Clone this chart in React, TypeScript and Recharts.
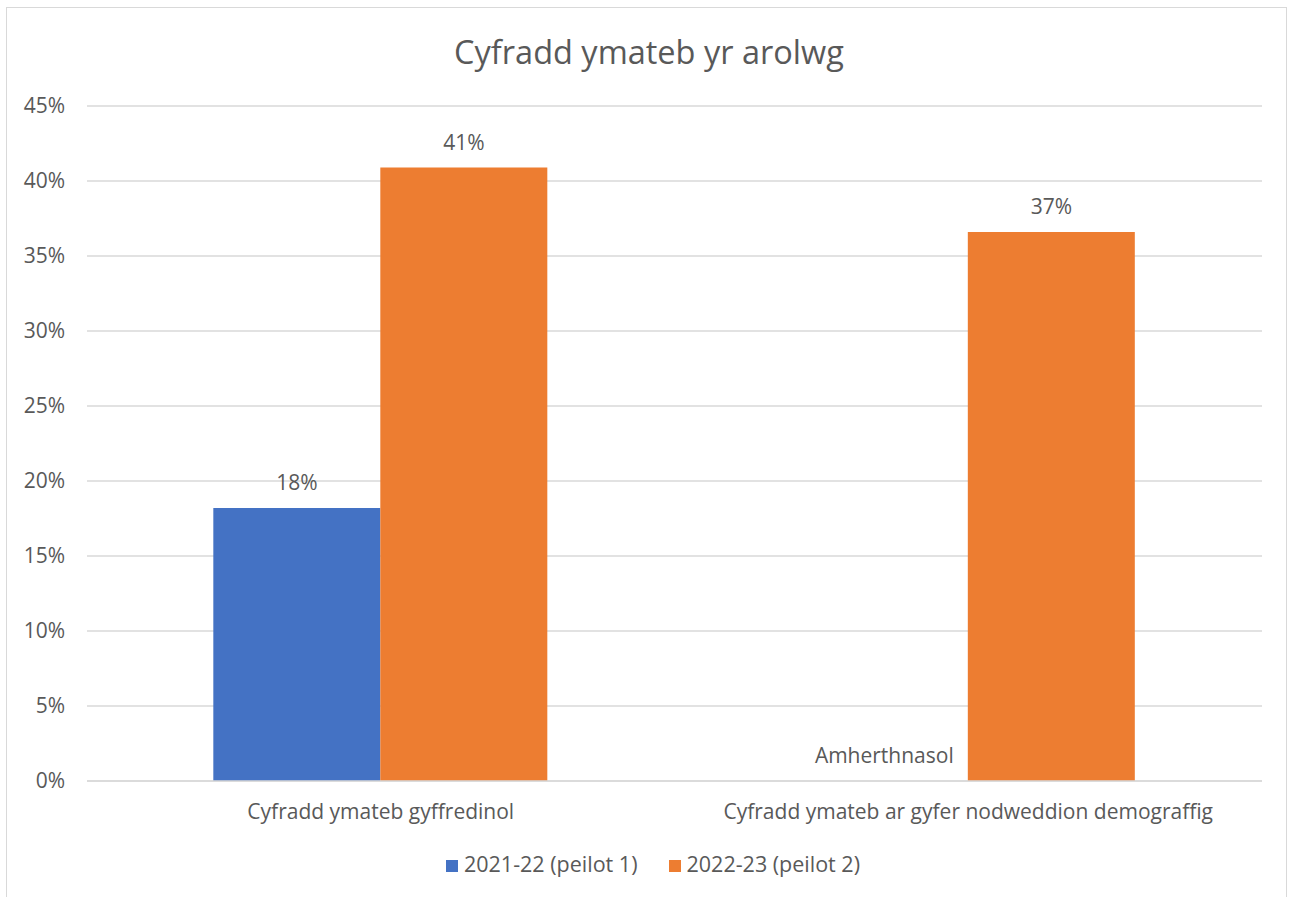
import React from 'react';
import { BarChart, Bar, XAxis, YAxis, CartesianGrid, Legend, LabelList } from 'recharts';

const categories = ['Cyfradd ymateb gyffredinol', 'Cyfradd ymateb ar gyfer nodweddion demograffig'];
const pilot1 = [18.2, 0];
const pilot2 = [40.9, 36.6];
const pilot1Notes = ['', 'Amherthnasol'];
const yTicks = [0, 5, 10, 15, 20, 25, 30, 35, 40, 45];

const FONT = '"Open Sans", sans-serif';
const TEXT = '#595959';

const data = categories.map((name, i) => ({
    name,
    p1: pilot1[i],
    p2: pilot2[i],
}));

// value label above each bar
const valueLabel = (props: any) => {
    const { x, y, width, value } = props;
    if (!value) return null;
    return (
        <text x={x + width / 2} y={y - 18} textAnchor="middle" fill={TEXT} fontSize={21} fontFamily={FONT}>
            {`${Math.round(value)}%`}
        </text>
    );
};

// the 2021-22 bar has no height where it doesn't apply, so its note is hung off the
// neighbouring 2022-23 bar: one bar width to the left, just above the axis
const p2Label = (props: any) => {
    const { x, y, width, height, index } = props;
    const note = pilot1Notes[index];
    return (
        <g>
            {valueLabel(props)}
            {note && (
                <text x={x - width / 2} y={y + height - 18} textAnchor="middle" fill={TEXT} fontSize={21} fontFamily={FONT}>
                    {note}
                </text>
            )}
        </g>
    );
};

export default function App() {
    return (
        <div style={{ position: 'absolute', left: 0, top: 0, width: 1292, height: 897, background: '#fff', overflow: 'hidden' }}>
            <div style={{ position: 'absolute', left: 6, top: 7, width: 1279, height: 900, border: '1px solid #d9d9d9' }} />
            <div style={{ position: 'absolute', left: 3, top: 29, width: 1292, textAlign: 'center', fontFamily: FONT, fontSize: 32.5, color: TEXT }}>
                Cyfradd ymateb yr arolwg
            </div>
            <BarChart
                width={1292}
                height={897}
                data={data}
                margin={{ top: 106, right: 30, bottom: 57, left: 0 }}
                barCategoryGap="21.5%"
                barGap={0}
                style={{ position: 'absolute', left: 0, top: 0 }}
            >
                <CartesianGrid vertical={false} stroke="#d9d9d9" strokeWidth={1.5} />
                <XAxis
                    dataKey="name"
                    axisLine={{ stroke: '#d9d9d9', strokeWidth: 1.5 }}
                    tickLine={false}
                    tickSize={0}
                    tickMargin={23}
                    height={30}
                    tick={{ fill: TEXT, fontSize: 21, fontFamily: FONT }}
                />
                <YAxis
                    domain={[0, 45]}
                    ticks={yTicks}
                    width={87}
                    axisLine={false}
                    tickLine={false}
                    tickSize={0}
                    tickMargin={22}
                    tickFormatter={(v: number) => `${v}%`}
                    tick={{ fill: TEXT, fontSize: 21, fontFamily: FONT }}
                />
                <Legend
                    verticalAlign="bottom"
                    iconType="square"
                    iconSize={12}
                    wrapperStyle={{ top: 849, left: 12, width: 1292, fontFamily: FONT, fontSize: 21.5 }}
                    formatter={(value: string, _e: any, i: number) => (
                        <span style={{ color: TEXT, marginLeft: 2, marginRight: i === 0 ? 21 : 0 }}>{value}</span>
                    )}
                />
                <Bar dataKey="p1" name="2021-22 (peilot 1)" fill="#4472C4" isAnimationActive={false}>
                    <LabelList dataKey="p1" content={valueLabel} />
                </Bar>
                <Bar dataKey="p2" name="2022-23 (peilot 2)" fill="#ED7D31" isAnimationActive={false}>
                    <LabelList dataKey="p2" content={p2Label} />
                </Bar>
            </BarChart>
        </div>
    );
}
